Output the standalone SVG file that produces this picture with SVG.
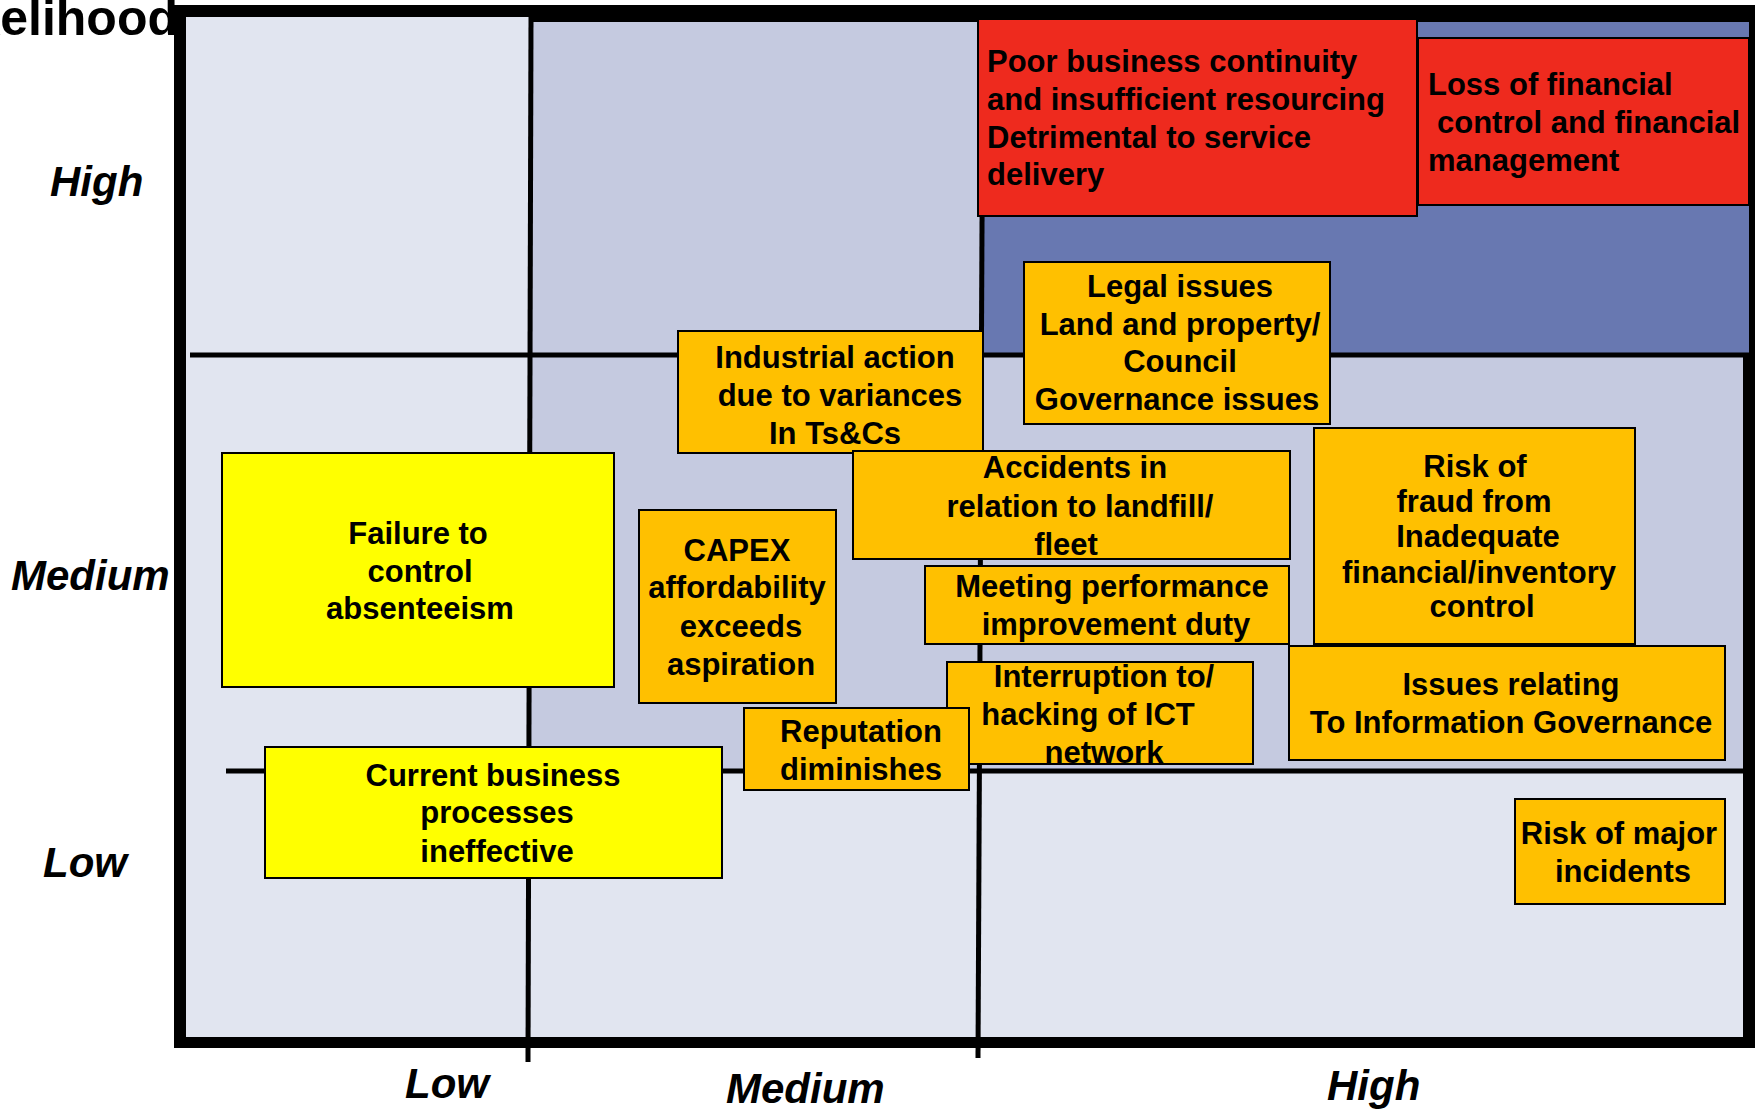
<svg xmlns="http://www.w3.org/2000/svg" width="1758" height="1110" viewBox="0 0 1758 1110">
<style>
  text { font-family: "Liberation Sans", Arial, sans-serif; font-weight: bold; fill: #000; }
  .t { font-size: 31px; text-anchor: middle; }
  .tl { font-size: 31px; text-anchor: start; }
  .ax { font-size: 42px; font-style: italic; }
  .orange { fill: #FFC000; stroke: #000; stroke-width: 2; }
  .yellow { fill: #FFFF00; stroke: #000; stroke-width: 2; }
  .red { fill: #EE2A1E; stroke: #000; stroke-width: 2; }
  .grid { stroke: #000; stroke-width: 5; fill: none; }
</style>
<rect x="0" y="0" width="1758" height="1110" fill="#FFFFFF"/>
<g id="background">
  <rect x="186" y="17" width="1557" height="1020" fill="#E1E5F0"/>
  <rect x="174" y="5" width="12" height="1043" fill="#000"/>
  <rect x="174" y="5" width="1581" height="12" fill="#000"/>
  <rect x="531" y="5" width="1224" height="17" fill="#000"/>
  <rect x="1743" y="5" width="12" height="1043" fill="#000"/>
  <rect x="174" y="1037" width="1581" height="11" fill="#000"/>
  <rect x="531" y="22" width="452" height="749" fill="#C5CAE0"/>
  <rect x="983" y="355" width="760" height="416" fill="#C5CAE0"/>
  <rect x="983" y="22" width="766" height="333" fill="#6878B1"/>
</g>
<g id="axis-labels">
  <text x="178" y="35" font-size="50" text-anchor="end">Likelihood</text>
  <text class="ax" x="50" y="196">High</text>
  <text class="ax" x="11" y="590">Medium</text>
  <text class="ax" x="43" y="877">Low</text>
  <text class="ax" x="405" y="1098">Low</text>
  <text class="ax" x="726" y="1103">Medium</text>
  <text class="ax" x="1327" y="1100">High</text>
</g>
<g id="connectors">
  <line class="grid" x1="531" y1="17" x2="528" y2="1062"/>
  <line class="grid" x1="983" y1="22" x2="978" y2="1058"/>
  <line class="grid" x1="190" y1="355" x2="1749" y2="355"/>
  <line class="grid" x1="226" y1="771" x2="1743" y2="771"/>
</g>
<g id="node-poor-business">
  <rect class="red" x="978" y="19" width="439" height="197"/>
  <text class="tl" x="987" y="72">Poor business continuity</text>
  <text class="tl" x="987" y="110">and insufficient resourcing</text>
  <text class="tl" x="987" y="148">Detrimental to service</text>
  <text class="tl" x="987" y="185">delivery</text>
</g>
<g id="node-loss-financial">
  <rect class="red" x="1418" y="38" width="331" height="167"/>
  <text class="tl" x="1428" y="95">Loss of financial</text>
  <text class="tl" x="1437" y="133">control and financial</text>
  <text class="tl" x="1428" y="171">management</text>
</g>
<g id="node-legal">
  <rect class="orange" x="1024" y="262" width="306" height="162"/>
  <text class="t" x="1180" y="297">Legal issues</text>
  <text class="t" x="1180" y="335">Land and property/</text>
  <text class="t" x="1180" y="372">Council</text>
  <text class="t" x="1177" y="410">Governance issues</text>
</g>
<g id="node-industrial">
  <rect class="orange" x="678" y="331" width="305" height="122"/>
  <text class="t" x="835" y="368">Industrial action</text>
  <text class="t" x="840" y="406">due to variances</text>
  <text class="t" x="835" y="444">In Ts&amp;Cs</text>
</g>
<g id="node-absenteeism">
  <rect class="yellow" x="222" y="453" width="392" height="234"/>
  <text class="t" x="418" y="544">Failure to</text>
  <text class="t" x="420" y="582">control</text>
  <text class="t" x="420" y="619">absenteeism</text>
</g>
<g id="node-capex">
  <rect class="orange" x="639" y="510" width="197" height="193"/>
  <text class="t" x="737" y="561">CAPEX</text>
  <text class="t" x="737" y="598">affordability</text>
  <text class="t" x="741" y="637">exceeds</text>
  <text class="t" x="741" y="675">aspiration</text>
</g>
<g id="node-accidents">
  <rect class="orange" x="853" y="451" width="437" height="108"/>
  <text class="t" x="1075" y="478">Accidents in</text>
  <text class="t" x="1080" y="517">relation to landfill/</text>
  <text class="t" x="1066" y="555">fleet</text>
</g>
<g id="node-meeting">
  <rect class="orange" x="925" y="566" width="364" height="78"/>
  <text class="t" x="1112" y="597">Meeting performance</text>
  <text class="t" x="1116" y="635">improvement duty</text>
</g>
<g id="node-fraud">
  <rect class="orange" x="1314" y="428" width="321" height="216"/>
  <text class="t" x="1475" y="477" font-size="28.5">Risk of</text>
  <text class="t" x="1474" y="512" font-size="28.5">fraud from</text>
  <text class="t" x="1478" y="547" font-size="28.5">Inadequate</text>
  <text class="t" x="1479" y="583" font-size="28.5">financial/inventory</text>
  <text class="t" x="1482" y="617" font-size="28.5">control</text>
</g>
<g id="node-information-governance">
  <rect class="orange" x="1289" y="646" width="436" height="114"/>
  <text class="t" x="1511" y="695">Issues relating</text>
  <text class="t" x="1511" y="733">To Information Governance</text>
</g>
<g id="node-interruption">
  <rect class="orange" x="947" y="662" width="306" height="102"/>
  <text class="t" x="1104" y="687">Interruption to/</text>
  <text class="t" x="1088" y="725">hacking of ICT</text>
  <text class="t" x="1104" y="763">network</text>
</g>
<g id="node-reputation">
  <rect class="orange" x="744" y="708" width="225" height="82"/>
  <text class="t" x="861" y="742">Reputation</text>
  <text class="t" x="861" y="780">diminishes</text>
</g>
<g id="node-current-business">
  <rect class="yellow" x="265" y="747" width="457" height="131"/>
  <text class="t" x="493" y="786">Current business</text>
  <text class="t" x="497" y="823">processes</text>
  <text class="t" x="497" y="862">ineffective</text>
</g>
<g id="node-major-incidents">
  <rect class="orange" x="1515" y="799" width="210" height="105"/>
  <text class="t" x="1619" y="844">Risk of major</text>
  <text class="t" x="1623" y="882">incidents</text>
</g>
</svg>
